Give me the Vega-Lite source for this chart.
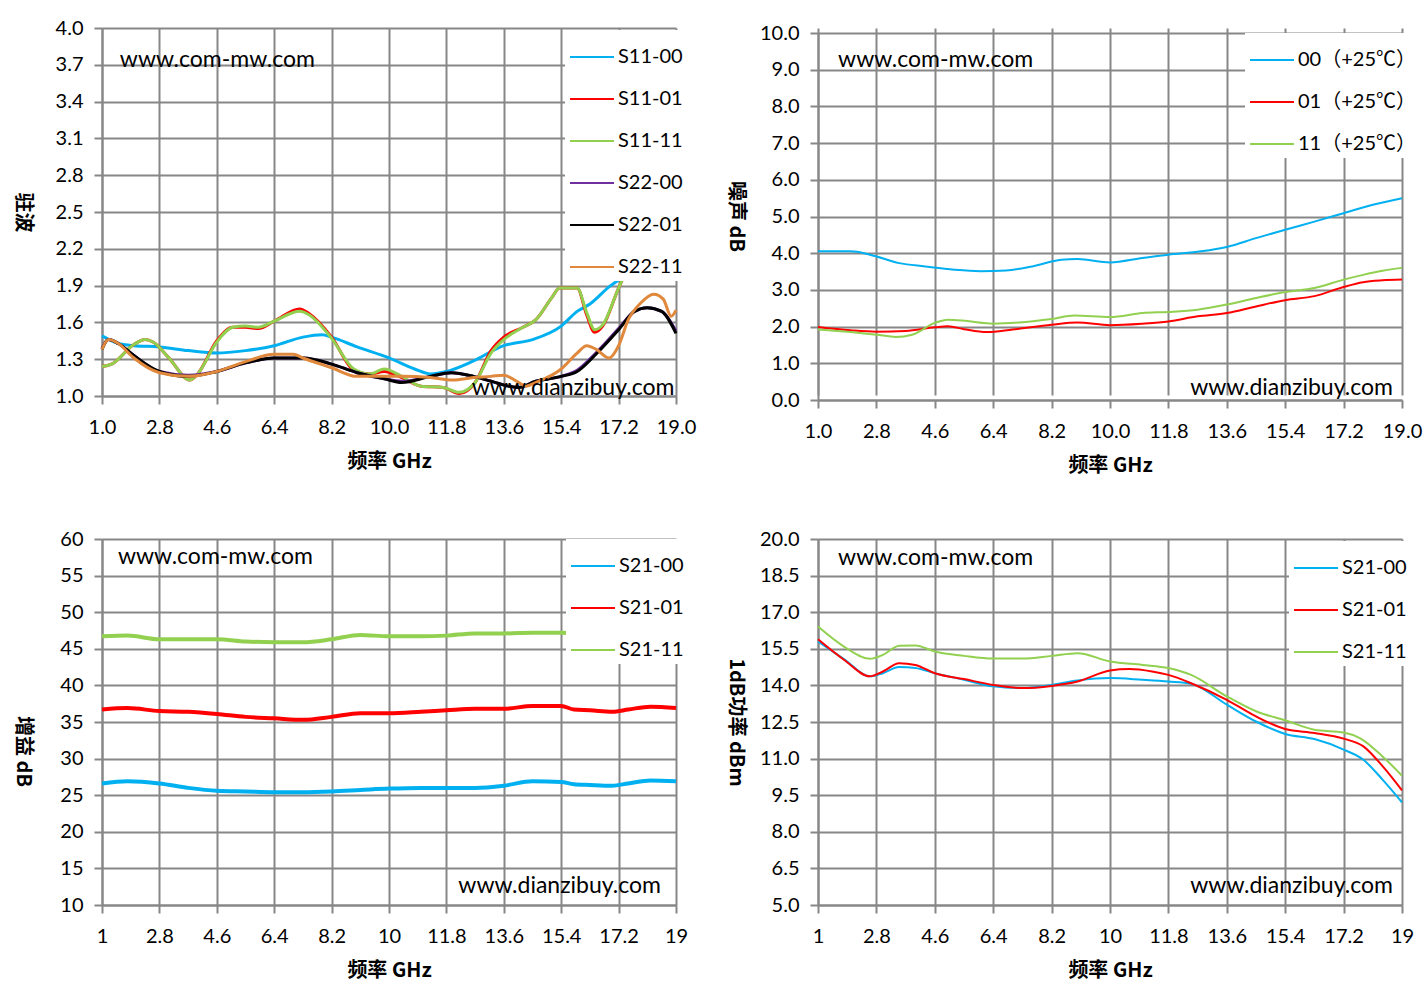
{
  "$schema": "https://vega.github.io/schema/vega-lite/v6.json",
  "autosize": {"type": "none"},
  "padding": {"left": 102, "top": 28, "right": 1324, "bottom": 971},
  "background": "white",
  "columns": 2,
  "spacing": {"row": 139, "column": 142},
  "bounds": "flush",
  "align": "each",
  "resolve": {"scale": {"x": "independent", "y": "independent", "color": "independent"}, "legend": {"color": "independent"}},
  "config": {
    "view": {"stroke": null},
    "axis": {"gridColor": "#878787", "gridWidth": 2, "domainColor": "#878787", "domainWidth": 2, "tickColor": "#878787", "tickWidth": 2, "tickSize": 8, "tickCount": 30, "labelFont": "Lato", "labelFontSize": 20, "labelColor": "#000000", "labelFlush": false, "labelOverlap": false, "titleFont": "Noto Sans CJK SC", "titleFontSize": 20, "titleFontWeight": "bold", "titleColor": "#000000"},
    "legend": {"orient": "none", "title": null, "fillColor": "white", "padding": 4, "symbolType": "stroke", "symbolSize": 1936, "symbolStrokeWidth": 2, "labelFont": "Lato, Noto Sans CJK SC", "labelFontSize": 20, "labelColor": "#000000", "rowPadding": 9, "labelOffset": 3, "labelLimit": 300},
    "text": {"font": "Lato", "fontSize": 23, "color": "#000000", "baseline": "middle"}
  },
  "datasets": {
    "p1": [
      {"f":1.0,"v":1.49,"s":"S11-00"},{"f":1.5,"v":1.43,"s":"S11-00"},{"f":2.0,"v":1.41,"s":"S11-00"},{"f":2.8,"v":1.40,"s":"S11-00"},{"f":3.7,"v":1.37,"s":"S11-00"},{"f":4.6,"v":1.35,"s":"S11-00"},{"f":5.5,"v":1.37,"s":"S11-00"},{"f":6.4,"v":1.41,"s":"S11-00"},{"f":7.3,"v":1.48,"s":"S11-00"},{"f":7.9,"v":1.50,"s":"S11-00"},{"f":8.2,"v":1.48,"s":"S11-00"},{"f":9.0,"v":1.40,"s":"S11-00"},{"f":10.0,"v":1.31,"s":"S11-00"},{"f":10.8,"v":1.22,"s":"S11-00"},{"f":11.3,"v":1.18,"s":"S11-00"},{"f":11.8,"v":1.20,"s":"S11-00"},{"f":12.6,"v":1.28,"s":"S11-00"},{"f":13.6,"v":1.41,"s":"S11-00"},{"f":14.5,"v":1.46,"s":"S11-00"},{"f":15.4,"v":1.57,"s":"S11-00"},{"f":15.9,"v":1.69,"s":"S11-00"},{"f":16.3,"v":1.75,"s":"S11-00"},{"f":16.9,"v":1.89,"s":"S11-00"},{"f":17.5,"v":2.0,"s":"S11-00"},{"f":18.2,"v":2.15,"s":"S11-00"},{"f":19.0,"v":2.3,"s":"S11-00"},
      {"f":1.0,"v":1.24,"s":"S11-01"},{"f":1.3,"v":1.26,"s":"S11-01"},{"f":2.0,"v":1.42,"s":"S11-01"},{"f":2.35,"v":1.46,"s":"S11-01"},{"f":2.6,"v":1.44,"s":"S11-01"},{"f":3.1,"v":1.31,"s":"S11-01"},{"f":3.75,"v":1.13,"s":"S11-01"},{"f":4.0,"v":1.18,"s":"S11-01"},{"f":4.6,"v":1.45,"s":"S11-01"},{"f":5.1,"v":1.56,"s":"S11-01"},{"f":5.5,"v":1.56,"s":"S11-01"},{"f":5.9,"v":1.55,"s":"S11-01"},{"f":6.4,"v":1.61,"s":"S11-01"},{"f":7.2,"v":1.71,"s":"S11-01"},{"f":7.5,"v":1.67,"s":"S11-01"},{"f":8.2,"v":1.48,"s":"S11-01"},{"f":8.9,"v":1.21,"s":"S11-01"},{"f":9.4,"v":1.18,"s":"S11-01"},{"f":9.85,"v":1.20,"s":"S11-01"},{"f":10.4,"v":1.15,"s":"S11-01"},{"f":11.0,"v":1.08,"s":"S11-01"},{"f":11.7,"v":1.07,"s":"S11-01"},{"f":12.2,"v":1.02,"s":"S11-01"},{"f":12.7,"v":1.11,"s":"S11-01"},{"f":13.2,"v":1.37,"s":"S11-01"},{"f":13.6,"v":1.48,"s":"S11-01"},{"f":14.2,"v":1.56,"s":"S11-01"},{"f":14.6,"v":1.62,"s":"S11-01"},{"f":15.1,"v":1.80,"s":"S11-01"},{"f":15.35,"v":1.88,"s":"S11-01"},{"f":15.9,"v":1.88,"s":"S11-01"},{"f":16.2,"v":1.66,"s":"S11-01"},{"f":16.45,"v":1.52,"s":"S11-01"},{"f":16.7,"v":1.57,"s":"S11-01"},{"f":17.2,"v":1.88,"s":"S11-01"},{"f":17.6,"v":2.1,"s":"S11-01"},{"f":18.2,"v":2.3,"s":"S11-01"},{"f":19.0,"v":2.5,"s":"S11-01"},
      {"f":1.0,"v":1.24,"s":"S11-11"},{"f":1.3,"v":1.26,"s":"S11-11"},{"f":2.0,"v":1.42,"s":"S11-11"},{"f":2.35,"v":1.46,"s":"S11-11"},{"f":2.6,"v":1.44,"s":"S11-11"},{"f":3.1,"v":1.31,"s":"S11-11"},{"f":3.75,"v":1.13,"s":"S11-11"},{"f":4.0,"v":1.18,"s":"S11-11"},{"f":4.6,"v":1.44,"s":"S11-11"},{"f":5.1,"v":1.56,"s":"S11-11"},{"f":5.5,"v":1.57,"s":"S11-11"},{"f":5.9,"v":1.56,"s":"S11-11"},{"f":6.4,"v":1.61,"s":"S11-11"},{"f":7.2,"v":1.69,"s":"S11-11"},{"f":7.5,"v":1.66,"s":"S11-11"},{"f":8.2,"v":1.47,"s":"S11-11"},{"f":8.9,"v":1.22,"s":"S11-11"},{"f":9.4,"v":1.18,"s":"S11-11"},{"f":9.85,"v":1.22,"s":"S11-11"},{"f":10.4,"v":1.16,"s":"S11-11"},{"f":11.0,"v":1.08,"s":"S11-11"},{"f":11.7,"v":1.07,"s":"S11-11"},{"f":12.2,"v":1.03,"s":"S11-11"},{"f":12.7,"v":1.11,"s":"S11-11"},{"f":13.2,"v":1.35,"s":"S11-11"},{"f":13.6,"v":1.46,"s":"S11-11"},{"f":14.2,"v":1.56,"s":"S11-11"},{"f":14.6,"v":1.62,"s":"S11-11"},{"f":15.1,"v":1.80,"s":"S11-11"},{"f":15.35,"v":1.88,"s":"S11-11"},{"f":15.9,"v":1.88,"s":"S11-11"},{"f":16.2,"v":1.68,"s":"S11-11"},{"f":16.45,"v":1.54,"s":"S11-11"},{"f":16.7,"v":1.58,"s":"S11-11"},{"f":17.2,"v":1.88,"s":"S11-11"},{"f":17.6,"v":2.1,"s":"S11-11"},{"f":18.2,"v":2.3,"s":"S11-11"},{"f":19.0,"v":2.5,"s":"S11-11"},
      {"f":1.0,"v":1.39,"s":"S22-00"},{"f":1.2,"v":1.46,"s":"S22-00"},{"f":1.5,"v":1.43,"s":"S22-00"},{"f":2.0,"v":1.33,"s":"S22-00"},{"f":2.8,"v":1.20,"s":"S22-00"},{"f":3.7,"v":1.17,"s":"S22-00"},{"f":4.6,"v":1.20,"s":"S22-00"},{"f":5.5,"v":1.27,"s":"S22-00"},{"f":6.4,"v":1.31,"s":"S22-00"},{"f":7.3,"v":1.31,"s":"S22-00"},{"f":8.2,"v":1.26,"s":"S22-00"},{"f":9.0,"v":1.19,"s":"S22-00"},{"f":9.85,"v":1.14,"s":"S22-00"},{"f":10.4,"v":1.12,"s":"S22-00"},{"f":11.3,"v":1.16,"s":"S22-00"},{"f":11.95,"v":1.19,"s":"S22-00"},{"f":12.65,"v":1.16,"s":"S22-00"},{"f":13.2,"v":1.12,"s":"S22-00"},{"f":14.05,"v":1.07,"s":"S22-00"},{"f":14.6,"v":1.12,"s":"S22-00"},{"f":15.4,"v":1.16,"s":"S22-00"},{"f":15.9,"v":1.21,"s":"S22-00"},{"f":16.45,"v":1.34,"s":"S22-00"},{"f":17.2,"v":1.55,"s":"S22-00"},{"f":17.7,"v":1.69,"s":"S22-00"},{"f":18.1,"v":1.72,"s":"S22-00"},{"f":18.55,"v":1.69,"s":"S22-00"},{"f":19.0,"v":1.53,"s":"S22-00"},
      {"f":1.0,"v":1.38,"s":"S22-01"},{"f":1.2,"v":1.46,"s":"S22-01"},{"f":1.5,"v":1.43,"s":"S22-01"},{"f":2.0,"v":1.33,"s":"S22-01"},{"f":2.8,"v":1.20,"s":"S22-01"},{"f":3.7,"v":1.16,"s":"S22-01"},{"f":4.6,"v":1.20,"s":"S22-01"},{"f":5.5,"v":1.27,"s":"S22-01"},{"f":6.4,"v":1.31,"s":"S22-01"},{"f":7.3,"v":1.31,"s":"S22-01"},{"f":8.2,"v":1.26,"s":"S22-01"},{"f":9.0,"v":1.19,"s":"S22-01"},{"f":9.85,"v":1.14,"s":"S22-01"},{"f":10.4,"v":1.11,"s":"S22-01"},{"f":11.3,"v":1.16,"s":"S22-01"},{"f":11.95,"v":1.19,"s":"S22-01"},{"f":12.65,"v":1.16,"s":"S22-01"},{"f":13.2,"v":1.12,"s":"S22-01"},{"f":14.05,"v":1.07,"s":"S22-01"},{"f":14.6,"v":1.12,"s":"S22-01"},{"f":15.4,"v":1.16,"s":"S22-01"},{"f":15.9,"v":1.20,"s":"S22-01"},{"f":16.45,"v":1.33,"s":"S22-01"},{"f":17.2,"v":1.54,"s":"S22-01"},{"f":17.7,"v":1.69,"s":"S22-01"},{"f":18.1,"v":1.72,"s":"S22-01"},{"f":18.55,"v":1.69,"s":"S22-01"},{"f":19.0,"v":1.51,"s":"S22-01"},
      {"f":1.0,"v":1.38,"s":"S22-11"},{"f":1.2,"v":1.46,"s":"S22-11"},{"f":1.5,"v":1.43,"s":"S22-11"},{"f":2.0,"v":1.31,"s":"S22-11"},{"f":2.8,"v":1.19,"s":"S22-11"},{"f":3.7,"v":1.16,"s":"S22-11"},{"f":4.6,"v":1.20,"s":"S22-11"},{"f":5.5,"v":1.28,"s":"S22-11"},{"f":6.4,"v":1.34,"s":"S22-11"},{"f":7.0,"v":1.34,"s":"S22-11"},{"f":7.3,"v":1.31,"s":"S22-11"},{"f":8.2,"v":1.23,"s":"S22-11"},{"f":9.0,"v":1.16,"s":"S22-11"},{"f":9.85,"v":1.16,"s":"S22-11"},{"f":10.4,"v":1.16,"s":"S22-11"},{"f":11.3,"v":1.15,"s":"S22-11"},{"f":12.0,"v":1.13,"s":"S22-11"},{"f":12.65,"v":1.15,"s":"S22-11"},{"f":13.2,"v":1.16,"s":"S22-11"},{"f":13.6,"v":1.17,"s":"S22-11"},{"f":14.0,"v":1.12,"s":"S22-11"},{"f":14.3,"v":1.08,"s":"S22-11"},{"f":14.6,"v":1.11,"s":"S22-11"},{"f":15.4,"v":1.22,"s":"S22-11"},{"f":15.9,"v":1.35,"s":"S22-11"},{"f":16.2,"v":1.41,"s":"S22-11"},{"f":16.5,"v":1.38,"s":"S22-11"},{"f":16.9,"v":1.31,"s":"S22-11"},{"f":17.2,"v":1.41,"s":"S22-11"},{"f":17.5,"v":1.62,"s":"S22-11"},{"f":17.9,"v":1.76,"s":"S22-11"},{"f":18.3,"v":1.83,"s":"S22-11"},{"f":18.6,"v":1.79,"s":"S22-11"},{"f":18.85,"v":1.65,"s":"S22-11"},{"f":19.0,"v":1.70,"s":"S22-11"}
    ],
    "w1": [
      {"f":1.56,"v":3.74,"t":"www.com-mw.com","a":"l"},
      {"f":18.95,"v":1.065,"t":"www.dianzibuy.com","a":"r"}
    ],
    "p2": [
      {"f":1.0,"v":4.05,"s":"00（+25℃）"},{"f":2.0,"v":4.05,"s":"00（+25℃）"},{"f":2.6,"v":3.96,"s":"00（+25℃）"},{"f":3.5,"v":3.73,"s":"00（+25℃）"},{"f":4.3,"v":3.64,"s":"00（+25℃）"},{"f":5.2,"v":3.55,"s":"00（+25℃）"},{"f":6.0,"v":3.51,"s":"00（+25℃）"},{"f":6.8,"v":3.53,"s":"00（+25℃）"},{"f":7.6,"v":3.64,"s":"00（+25℃）"},{"f":8.5,"v":3.82,"s":"00（+25℃）"},{"f":9.0,"v":3.84,"s":"00（+25℃）"},{"f":10.0,"v":3.75,"s":"00（+25℃）"},{"f":11.0,"v":3.87,"s":"00（+25℃）"},{"f":11.8,"v":3.96,"s":"00（+25℃）"},{"f":12.8,"v":4.05,"s":"00（+25℃）"},{"f":13.6,"v":4.17,"s":"00（+25℃）"},{"f":14.5,"v":4.41,"s":"00（+25℃）"},{"f":15.4,"v":4.64,"s":"00（+25℃）"},{"f":16.3,"v":4.86,"s":"00（+25℃）"},{"f":17.2,"v":5.09,"s":"00（+25℃）"},{"f":18.1,"v":5.32,"s":"00（+25℃）"},{"f":19.0,"v":5.50,"s":"00（+25℃）"},
      {"f":1.0,"v":1.99,"s":"01（+25℃）"},{"f":2.0,"v":1.90,"s":"01（+25℃）"},{"f":2.8,"v":1.86,"s":"01（+25℃）"},{"f":3.7,"v":1.88,"s":"01（+25℃）"},{"f":4.6,"v":1.98,"s":"01（+25℃）"},{"f":5.0,"v":2.01,"s":"01（+25℃）"},{"f":5.5,"v":1.93,"s":"01（+25℃）"},{"f":6.2,"v":1.85,"s":"01（+25℃）"},{"f":7.0,"v":1.92,"s":"01（+25℃）"},{"f":8.2,"v":2.05,"s":"01（+25℃）"},{"f":9.0,"v":2.11,"s":"01（+25℃）"},{"f":10.0,"v":2.04,"s":"01（+25℃）"},{"f":11.0,"v":2.08,"s":"01（+25℃）"},{"f":11.8,"v":2.14,"s":"01（+25℃）"},{"f":12.7,"v":2.28,"s":"01（+25℃）"},{"f":13.6,"v":2.37,"s":"01（+25℃）"},{"f":14.5,"v":2.55,"s":"01（+25℃）"},{"f":15.4,"v":2.72,"s":"01（+25℃）"},{"f":16.3,"v":2.83,"s":"01（+25℃）"},{"f":17.2,"v":3.08,"s":"01（+25℃）"},{"f":17.8,"v":3.21,"s":"01（+25℃）"},{"f":18.4,"v":3.26,"s":"01（+25℃）"},{"f":19.0,"v":3.28,"s":"01（+25℃）"},
      {"f":1.0,"v":1.92,"s":"11（+25℃）"},{"f":2.0,"v":1.85,"s":"11（+25℃）"},{"f":2.8,"v":1.78,"s":"11（+25℃）"},{"f":3.4,"v":1.72,"s":"11（+25℃）"},{"f":3.9,"v":1.78,"s":"11（+25℃）"},{"f":4.6,"v":2.10,"s":"11（+25℃）"},{"f":5.0,"v":2.19,"s":"11（+25℃）"},{"f":5.6,"v":2.15,"s":"11（+25℃）"},{"f":6.4,"v":2.08,"s":"11（+25℃）"},{"f":7.3,"v":2.12,"s":"11（+25℃）"},{"f":8.2,"v":2.21,"s":"11（+25℃）"},{"f":8.9,"v":2.30,"s":"11（+25℃）"},{"f":10.0,"v":2.26,"s":"11（+25℃）"},{"f":11.0,"v":2.37,"s":"11（+25℃）"},{"f":11.8,"v":2.40,"s":"11（+25℃）"},{"f":12.7,"v":2.46,"s":"11（+25℃）"},{"f":13.6,"v":2.60,"s":"11（+25℃）"},{"f":14.5,"v":2.78,"s":"11（+25℃）"},{"f":15.4,"v":2.94,"s":"11（+25℃）"},{"f":16.3,"v":3.05,"s":"11（+25℃）"},{"f":17.2,"v":3.28,"s":"11（+25℃）"},{"f":17.8,"v":3.41,"s":"11（+25℃）"},{"f":18.4,"v":3.52,"s":"11（+25℃）"},{"f":19.0,"v":3.60,"s":"11（+25℃）"}
    ],
    "w2": [
      {"f":1.62,"v":9.26,"t":"www.com-mw.com","a":"l"},
      {"f":18.72,"v":0.33,"t":"www.dianzibuy.com","a":"r"}
    ],
    "p3": [
      {"f":1.0,"v":26.6,"s":"S21-00"},{"f":1.8,"v":26.9,"s":"S21-00"},{"f":2.8,"v":26.6,"s":"S21-00"},{"f":3.7,"v":26.0,"s":"S21-00"},{"f":4.6,"v":25.6,"s":"S21-00"},{"f":5.5,"v":25.5,"s":"S21-00"},{"f":6.4,"v":25.4,"s":"S21-00"},{"f":7.3,"v":25.4,"s":"S21-00"},{"f":8.2,"v":25.5,"s":"S21-00"},{"f":9.1,"v":25.7,"s":"S21-00"},{"f":10.0,"v":25.9,"s":"S21-00"},{"f":11.0,"v":26.0,"s":"S21-00"},{"f":11.8,"v":26.0,"s":"S21-00"},{"f":12.7,"v":26.0,"s":"S21-00"},{"f":13.6,"v":26.3,"s":"S21-00"},{"f":14.5,"v":26.9,"s":"S21-00"},{"f":15.4,"v":26.8,"s":"S21-00"},{"f":15.8,"v":26.5,"s":"S21-00"},{"f":16.3,"v":26.4,"s":"S21-00"},{"f":17.0,"v":26.3,"s":"S21-00"},{"f":17.5,"v":26.6,"s":"S21-00"},{"f":18.2,"v":27.0,"s":"S21-00"},{"f":19.0,"v":26.9,"s":"S21-00"},
      {"f":1.0,"v":36.7,"s":"S21-01"},{"f":1.8,"v":36.9,"s":"S21-01"},{"f":2.8,"v":36.5,"s":"S21-01"},{"f":3.7,"v":36.4,"s":"S21-01"},{"f":4.6,"v":36.1,"s":"S21-01"},{"f":5.5,"v":35.7,"s":"S21-01"},{"f":6.4,"v":35.5,"s":"S21-01"},{"f":7.3,"v":35.3,"s":"S21-01"},{"f":8.2,"v":35.7,"s":"S21-01"},{"f":9.1,"v":36.2,"s":"S21-01"},{"f":10.0,"v":36.2,"s":"S21-01"},{"f":11.0,"v":36.4,"s":"S21-01"},{"f":11.8,"v":36.6,"s":"S21-01"},{"f":12.7,"v":36.8,"s":"S21-01"},{"f":13.6,"v":36.8,"s":"S21-01"},{"f":14.5,"v":37.2,"s":"S21-01"},{"f":15.4,"v":37.2,"s":"S21-01"},{"f":15.8,"v":36.7,"s":"S21-01"},{"f":16.3,"v":36.6,"s":"S21-01"},{"f":17.0,"v":36.4,"s":"S21-01"},{"f":17.5,"v":36.7,"s":"S21-01"},{"f":18.2,"v":37.1,"s":"S21-01"},{"f":19.0,"v":36.9,"s":"S21-01"},
      {"f":1.0,"v":46.7,"s":"S21-11"},{"f":1.8,"v":46.8,"s":"S21-11"},{"f":2.8,"v":46.3,"s":"S21-11"},{"f":3.7,"v":46.3,"s":"S21-11"},{"f":4.6,"v":46.3,"s":"S21-11"},{"f":5.5,"v":46.0,"s":"S21-11"},{"f":6.4,"v":45.9,"s":"S21-11"},{"f":7.3,"v":45.9,"s":"S21-11"},{"f":8.2,"v":46.3,"s":"S21-11"},{"f":9.1,"v":46.9,"s":"S21-11"},{"f":10.0,"v":46.7,"s":"S21-11"},{"f":11.0,"v":46.7,"s":"S21-11"},{"f":11.8,"v":46.8,"s":"S21-11"},{"f":12.7,"v":47.1,"s":"S21-11"},{"f":13.6,"v":47.1,"s":"S21-11"},{"f":14.5,"v":47.2,"s":"S21-11"},{"f":15.4,"v":47.2,"s":"S21-11"},{"f":16.3,"v":46.9,"s":"S21-11"},{"f":17.2,"v":46.8,"s":"S21-11"},{"f":18.2,"v":47.3,"s":"S21-11"},{"f":19.0,"v":47.2,"s":"S21-11"}
    ],
    "w3": [
      {"f":1.5,"v":57.5,"t":"www.com-mw.com","a":"l"},
      {"f":18.53,"v":12.6,"t":"www.dianzibuy.com","a":"r"}
    ],
    "p4": [
      {"f":1.0,"v":15.80,"s":"S21-00"},{"f":1.8,"v":15.08,"s":"S21-00"},{"f":2.6,"v":14.37,"s":"S21-00"},{"f":3.0,"v":14.50,"s":"S21-00"},{"f":3.5,"v":14.75,"s":"S21-00"},{"f":4.0,"v":14.71,"s":"S21-00"},{"f":4.6,"v":14.50,"s":"S21-00"},{"f":5.5,"v":14.23,"s":"S21-00"},{"f":6.4,"v":13.96,"s":"S21-00"},{"f":7.3,"v":13.89,"s":"S21-00"},{"f":8.2,"v":14.02,"s":"S21-00"},{"f":9.0,"v":14.20,"s":"S21-00"},{"f":10.0,"v":14.30,"s":"S21-00"},{"f":11.0,"v":14.23,"s":"S21-00"},{"f":11.8,"v":14.16,"s":"S21-00"},{"f":12.5,"v":14.07,"s":"S21-00"},{"f":13.6,"v":13.21,"s":"S21-00"},{"f":14.5,"v":12.52,"s":"S21-00"},{"f":15.4,"v":12.01,"s":"S21-00"},{"f":16.3,"v":11.80,"s":"S21-00"},{"f":17.2,"v":11.37,"s":"S21-00"},{"f":17.8,"v":10.96,"s":"S21-00"},{"f":18.4,"v":10.14,"s":"S21-00"},{"f":19.0,"v":9.21,"s":"S21-00"},
      {"f":1.0,"v":15.89,"s":"S21-01"},{"f":1.8,"v":15.05,"s":"S21-01"},{"f":2.6,"v":14.37,"s":"S21-01"},{"f":3.0,"v":14.57,"s":"S21-01"},{"f":3.5,"v":14.91,"s":"S21-01"},{"f":4.0,"v":14.84,"s":"S21-01"},{"f":4.6,"v":14.50,"s":"S21-01"},{"f":5.5,"v":14.26,"s":"S21-01"},{"f":6.4,"v":14.02,"s":"S21-01"},{"f":7.3,"v":13.89,"s":"S21-01"},{"f":8.2,"v":13.98,"s":"S21-01"},{"f":9.0,"v":14.16,"s":"S21-01"},{"f":10.0,"v":14.61,"s":"S21-01"},{"f":10.6,"v":14.67,"s":"S21-01"},{"f":11.3,"v":14.57,"s":"S21-01"},{"f":11.8,"v":14.43,"s":"S21-01"},{"f":12.5,"v":14.09,"s":"S21-01"},{"f":13.6,"v":13.41,"s":"S21-01"},{"f":14.5,"v":12.73,"s":"S21-01"},{"f":15.4,"v":12.21,"s":"S21-01"},{"f":16.3,"v":12.05,"s":"S21-01"},{"f":17.2,"v":11.82,"s":"S21-01"},{"f":17.8,"v":11.51,"s":"S21-01"},{"f":18.4,"v":10.69,"s":"S21-01"},{"f":19.0,"v":9.70,"s":"S21-01"},
      {"f":1.0,"v":16.41,"s":"S21-11"},{"f":1.8,"v":15.59,"s":"S21-11"},{"f":2.6,"v":15.09,"s":"S21-11"},{"f":3.0,"v":15.25,"s":"S21-11"},{"f":3.5,"v":15.62,"s":"S21-11"},{"f":4.0,"v":15.64,"s":"S21-11"},{"f":4.6,"v":15.39,"s":"S21-11"},{"f":5.5,"v":15.21,"s":"S21-11"},{"f":6.4,"v":15.10,"s":"S21-11"},{"f":7.3,"v":15.10,"s":"S21-11"},{"f":8.2,"v":15.21,"s":"S21-11"},{"f":9.0,"v":15.32,"s":"S21-11"},{"f":10.0,"v":14.98,"s":"S21-11"},{"f":11.0,"v":14.84,"s":"S21-11"},{"f":11.8,"v":14.71,"s":"S21-11"},{"f":12.5,"v":14.43,"s":"S21-11"},{"f":13.6,"v":13.55,"s":"S21-11"},{"f":14.5,"v":12.94,"s":"S21-11"},{"f":15.4,"v":12.57,"s":"S21-11"},{"f":16.3,"v":12.18,"s":"S21-11"},{"f":17.2,"v":12.07,"s":"S21-11"},{"f":17.7,"v":11.84,"s":"S21-11"},{"f":18.4,"v":11.09,"s":"S21-11"},{"f":19.0,"v":10.30,"s":"S21-11"}
    ],
    "w4": [
      {"f":1.62,"v":19.22,"t":"www.com-mw.com","a":"l"},
      {"f":18.72,"v":5.78,"t":"www.dianzibuy.com","a":"r"}
    ]
  },
  "concat": [
    {
      "width": 574, "height": 368,
      "layer": [
        {
          "data": {"name": "p1"},
          "mark": {"type": "line", "interpolate": "monotone", "strokeWidth": 3},
          "encoding": {
            "x": {"field": "f", "type": "quantitative", "scale": {"domain": [1, 19], "nice": false, "zero": false},
              "axis": {"values": [1, 2.8, 4.6, 6.4, 8.2, 10, 11.8, 13.6, 15.4, 17.2, 19], "format": ".1f", "labelPadding": 13, "title": "频率 GHz", "titleY": 65, "titleBaseline": "middle"}},
            "y": {"field": "v", "type": "quantitative", "scale": {"domain": [1, 4], "nice": false, "zero": false},
              "axis": {"values": [1, 1.3, 1.6, 1.9, 2.2, 2.5, 2.8, 3.1, 3.4, 3.7, 4.0], "format": ".1f", "labelPadding": 11, "title": "驻波", "titleAngle": 90, "titleX": -80, "titleY": 184, "titleAlign": "center", "titleBaseline": "middle"}},
            "color": {"field": "s", "type": "nominal",
              "scale": {"domain": ["S11-00", "S11-01", "S11-11", "S22-00", "S22-01", "S22-11"], "range": ["#00B0F0", "#FF0000", "#92D050", "#7030A0", "#000000", "#E0883C"]},
              "legend": {"legendX": 463, "legendY": 2}}
          }
        },
        {
          "data": {"name": "w1"},
          "transform": [{"filter": "datum.a == 'l'"}],
          "mark": {"type": "text", "align": "left"},
          "encoding": {"x": {"field": "f", "type": "quantitative"}, "y": {"field": "v", "type": "quantitative"}, "text": {"field": "t"}}
        },
        {
          "data": {"name": "w1"},
          "transform": [{"filter": "datum.a == 'r'"}],
          "mark": {"type": "text", "align": "right"},
          "encoding": {"x": {"field": "f", "type": "quantitative"}, "y": {"field": "v", "type": "quantitative"}, "text": {"field": "t"}}
        }
      ]
    },
    {
      "width": 584, "height": 372,
      "layer": [
        {
          "data": {"name": "p2"},
          "mark": {"type": "line", "interpolate": "monotone", "strokeWidth": 2},
          "encoding": {
            "x": {"field": "f", "type": "quantitative", "scale": {"domain": [1, 19], "nice": false, "zero": false},
              "axis": {"values": [1, 2.8, 4.6, 6.4, 8.2, 10, 11.8, 13.6, 15.4, 17.2, 19], "format": ".1f", "labelPadding": 13, "title": "频率 GHz", "titleY": 65, "titleBaseline": "middle"}},
            "y": {"field": "v", "type": "quantitative", "scale": {"domain": [0, 10], "nice": false, "zero": false, "range": [372, 5]},
              "axis": {"values": [0, 1, 2, 3, 4, 5, 6, 7, 8, 9, 10], "format": ".1f", "labelPadding": 11, "title": "噪声 dB", "titleAngle": 90, "titleX": -83, "titleY": 188, "titleAlign": "center", "titleBaseline": "middle"}},
            "color": {"field": "s", "type": "nominal",
              "scale": {"domain": ["00（+25℃）", "01（+25℃）", "11（+25℃）"], "range": ["#00B0F0", "#FF0000", "#92D050"]},
              "legend": {"legendX": 427, "legendY": 5}}
          }
        },
        {
          "data": {"name": "w2"},
          "transform": [{"filter": "datum.a == 'l'"}],
          "mark": {"type": "text", "align": "left"},
          "encoding": {"x": {"field": "f", "type": "quantitative"}, "y": {"field": "v", "type": "quantitative"}, "text": {"field": "t"}}
        },
        {
          "data": {"name": "w2"},
          "transform": [{"filter": "datum.a == 'r'"}],
          "mark": {"type": "text", "align": "right"},
          "encoding": {"x": {"field": "f", "type": "quantitative"}, "y": {"field": "v", "type": "quantitative"}, "text": {"field": "t"}}
        }
      ]
    },
    {
      "width": 574, "height": 366,
      "layer": [
        {
          "data": {"name": "p3"},
          "mark": {"type": "line", "interpolate": "monotone", "strokeWidth": 4},
          "encoding": {
            "x": {"field": "f", "type": "quantitative", "scale": {"domain": [1, 19], "nice": false, "zero": false},
              "axis": {"values": [1, 2.8, 4.6, 6.4, 8.2, 10, 11.8, 13.6, 15.4, 17.2, 19], "format": ".3~g", "labelPadding": 13, "title": "频率 GHz", "titleY": 65, "titleBaseline": "middle"}},
            "y": {"field": "v", "type": "quantitative", "scale": {"domain": [10, 60], "nice": false, "zero": false},
              "axis": {"values": [10, 15, 20, 25, 30, 35, 40, 45, 50, 55, 60], "format": "d", "labelPadding": 11, "title": "增益 dB", "titleAngle": 90, "titleX": -80, "titleY": 212, "titleAlign": "center", "titleBaseline": "middle"}},
            "color": {"field": "s", "type": "nominal",
              "scale": {"domain": ["S21-00", "S21-01", "S21-11"], "range": ["#00B0F0", "#FF0000", "#92D050"]},
              "legend": {"legendX": 464, "legendY": 0}}
          }
        },
        {
          "data": {"name": "w3"},
          "transform": [{"filter": "datum.a == 'l'"}],
          "mark": {"type": "text", "align": "left"},
          "encoding": {"x": {"field": "f", "type": "quantitative"}, "y": {"field": "v", "type": "quantitative"}, "text": {"field": "t"}}
        },
        {
          "data": {"name": "w3"},
          "transform": [{"filter": "datum.a == 'r'"}],
          "mark": {"type": "text", "align": "right"},
          "encoding": {"x": {"field": "f", "type": "quantitative"}, "y": {"field": "v", "type": "quantitative"}, "text": {"field": "t"}}
        }
      ]
    },
    {
      "width": 584, "height": 366,
      "layer": [
        {
          "data": {"name": "p4"},
          "mark": {"type": "line", "interpolate": "monotone", "strokeWidth": 2},
          "encoding": {
            "x": {"field": "f", "type": "quantitative", "scale": {"domain": [1, 19], "nice": false, "zero": false},
              "axis": {"values": [1, 2.8, 4.6, 6.4, 8.2, 10, 11.8, 13.6, 15.4, 17.2, 19], "format": ".3~g", "labelPadding": 13, "title": "频率 GHz", "titleY": 65, "titleBaseline": "middle"}},
            "y": {"field": "v", "type": "quantitative", "scale": {"domain": [5, 20], "nice": false, "zero": false},
              "axis": {"values": [5, 6.5, 8, 9.5, 11, 12.5, 14, 15.5, 17, 18.5, 20], "format": ".1f", "labelPadding": 11, "title": "1dB功率 dBm", "titleAngle": 90, "titleX": -83, "titleY": 183, "titleAlign": "center", "titleBaseline": "middle"}},
            "color": {"field": "s", "type": "nominal",
              "scale": {"domain": ["S21-00", "S21-01", "S21-11"], "range": ["#00B0F0", "#FF0000", "#92D050"]},
              "legend": {"legendX": 471, "legendY": 2}}
          }
        },
        {
          "data": {"name": "w4"},
          "transform": [{"filter": "datum.a == 'l'"}],
          "mark": {"type": "text", "align": "left"},
          "encoding": {"x": {"field": "f", "type": "quantitative"}, "y": {"field": "v", "type": "quantitative"}, "text": {"field": "t"}}
        },
        {
          "data": {"name": "w4"},
          "transform": [{"filter": "datum.a == 'r'"}],
          "mark": {"type": "text", "align": "right"},
          "encoding": {"x": {"field": "f", "type": "quantitative"}, "y": {"field": "v", "type": "quantitative"}, "text": {"field": "t"}}
        }
      ]
    }
  ]
}
